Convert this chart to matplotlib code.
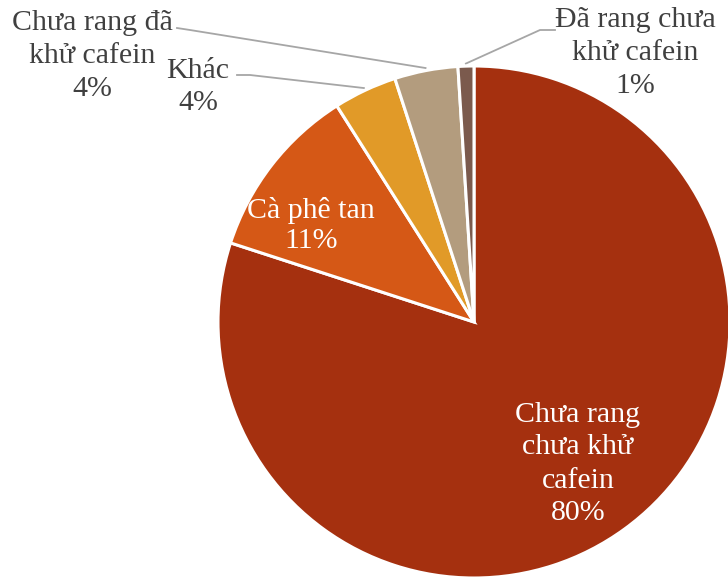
import matplotlib.pyplot as plt
import numpy as np

# slices, clockwise from 12 o'clock
labels = ['Chưa rang\nchưa khử\ncafein', 'Cà phê tan', 'Khác',
          'Chưa rang đã\nkhử cafein', 'Đã rang chưa\nkhử cafein']
values = [80, 11, 4, 4, 1]
colors = ['#A5300F', '#D55816', '#E19A28', '#B39C7E', '#7B5A4D']

plt.rcParams['font.family'] = ['Liberation Serif', 'DejaVu Serif']

W, H = 728, 578
fig = plt.figure(figsize=(W / 100, H / 100), dpi=100)
ax = fig.add_axes([0, 0, 1, 1])

cx, cy, r = 474, H - 322, 256
wedges, _ = ax.pie(values, colors=colors, startangle=90, counterclock=False,
                   center=(cx, cy), radius=r, frame=True,
                   wedgeprops=dict(edgecolor='white', linewidth=2.2))
ax.set_xlim(0, W)
ax.set_ylim(0, H)
ax.set_aspect('equal')
ax.axis('off')

fs = 21.5
ls = 1.35
txt = '#404040'
pct = ['{}%'.format(v) for v in values]

# labels inside the two big slices
ax.text(578, H - 464, labels[0] + '\n' + pct[0], color='white', fontsize=fs,
        ha='center', va='center', linespacing=ls)
ax.text(311, H - 226, labels[1] + '\n' + pct[1], color='white', fontsize=fs,
        ha='center', va='center', linespacing=1.2)


def mid_point(w, k=1.0):
    ang = np.deg2rad((w.theta1 + w.theta2) / 2)
    return cx + k * r * np.cos(ang), cy + k * r * np.sin(ang)


# outside labels with leader lines: (text pos, elbow start, elbow end)
outside = [
    (2, (198, 87), (237, 75), (250, 75)),
    (3, (92, 56), (177, 28), (190, 30)),
    (4, (635, 53), (555, 30), (540, 30)),
]
for i, (tx, ty), p0, p1 in outside:
    ax.text(tx, H - ty, labels[i] + '\n' + pct[i], color=txt, fontsize=fs,
            ha='center', va='center', linespacing=ls)
    ex, ey = mid_point(wedges[i], 1.01)
    ax.plot([p0[0], p1[0], ex], [H - p0[1], H - p1[1], ey],
            color='#A6A6A6', lw=1.3, zorder=0)

fig.savefig('out.png', dpi=100)
